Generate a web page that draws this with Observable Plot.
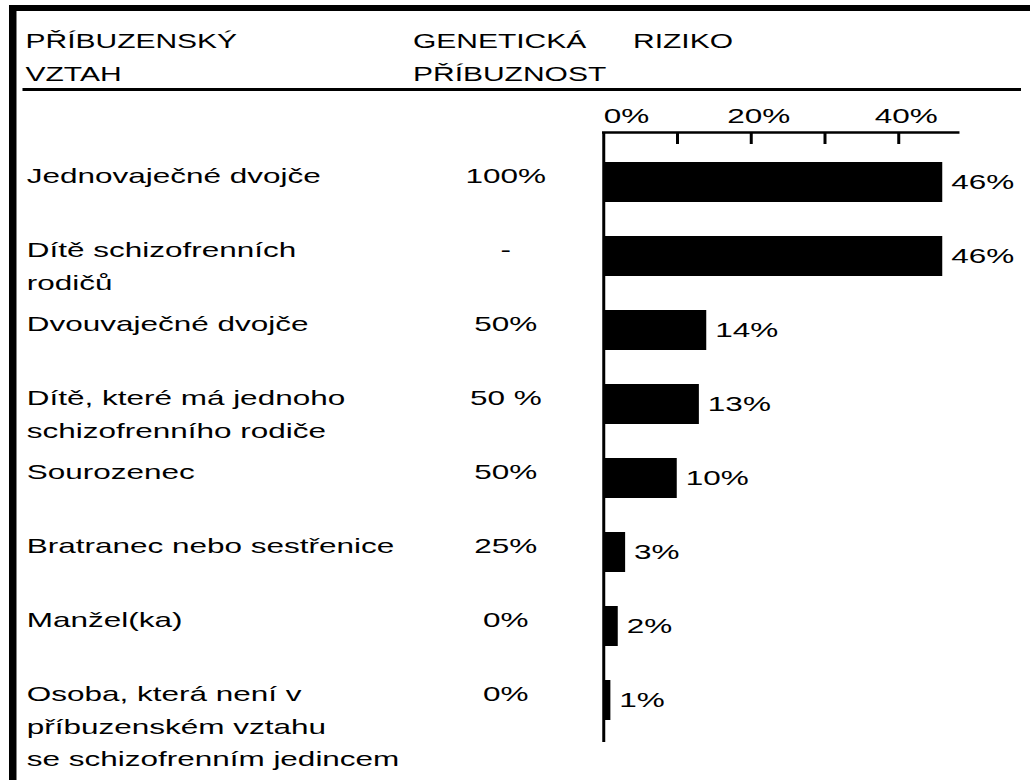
<!DOCTYPE html>
<html>
<head>
<meta charset="utf-8">
<script src="https://cdn.jsdelivr.net/npm/d3@7"></script>
<script src="https://cdn.jsdelivr.net/npm/@observablehq/plot@0.6"></script>
<style>
html, body { margin: 0; padding: 0; background: #fff; }
#stage { position: absolute; left: 0; top: 0; width: 687px; height: 780px; transform-origin: 0 0;
  font-family: 'Liberation Sans', Arial, sans-serif; color: #000; }
.hd { position: absolute; font-size: 20px; line-height: 33px; white-space: pre; color: #000; }
.rule { position: absolute; background: #000; }
#chart { position: absolute; left: 0; top: 0; width: 687px; height: 780px; }
</style>
</head>
<body>
<div id="stage">
  <div class="rule" style="left:6px;top:5px;width:681px;height:6px"></div>
  <div class="rule" style="left:6px;top:5px;width:5.4px;height:775px"></div>
  <div class="rule" style="left:15.3px;top:87.5px;width:666px;height:3px"></div>
  <div id="headers"></div>
  <div id="chart"></div>
</div>
<script>
// ---- data ----
const headers = ["PŘÍBUZENSKÝ\nVZTAH", "GENETICKÁ\nPŘÍBUZNOST", "RIZIKO"];
const relations = [
  "Jednovaječné dvojče",
  "Dítě schizofrenních\nrodičů",
  "Dvouvaječné dvojče",
  "Dítě, které má jednoho\nschizofrenního rodiče",
  "Sourozenec",
  "Bratranec nebo sestřenice",
  "Manžel(ka)",
  "Osoba, která není v\npříbuzenském vztahu\nse schizofrenním jedincem"
];
const relatedness = ["100%", "-", "50%", "50 %", "50%", "25%", "0%", "0%"];
const risk = [46, 46, 14, 13, 10, 3, 2, 1];
const tickLabels = [0, 20, 40];
const tickMarks = [10, 20, 30, 40];
const axisMax = 48;

// ---- layout ----
const W = 687, H = 780, S = 1030 / W;
document.getElementById("stage").style.transform = `scaleX(${S})`;
const headerLeft = [17, 413 / S, 633 / S];
const hd = document.getElementById("headers");
headers.forEach((h, i) => {
  const d = document.createElement("div");
  d.className = "hd";
  d.style.left = headerLeft[i] + "px";
  d.style.top = "25px";
  d.textContent = h;
  hd.appendChild(d);
});

const rows = relations.map((r, i) => ({relation: r, rel: relatedness[i], risk: risk[i]}));
const lines = rows.flatMap(d => d.relation.split("\n").map((t, j) => ({relation: d.relation, line: j, t})));

const mL = 603 / S, mT = 132, mR = W - 957 / S, mB = 38;
const labelDx = 26 / S - mL;
const relDx = 505 / S - mL;
const firstDy = -6, lineStep = 32.5;
const font = {fontSize: 21, fill: "#000"};

const chart = Plot.plot({
  width: W, height: H,
  marginLeft: mL, marginTop: mT, marginRight: mR, marginBottom: mB,
  style: {fontFamily: "'Liberation Sans', Arial, sans-serif", fontSize: "21px", background: "transparent", color: "#000", overflow: "visible"},
  x: {domain: [0, axisMax], axis: null},
  y: {domain: relations, range: [144, 737], paddingInner: 0.4645, paddingOuter: 0.2, axis: null},
  marks: [
    Plot.barX(rows, {x: "risk", y: "relation", fill: "#000"}),
    Plot.ruleX([0], {stroke: "#000", strokeWidth: 2}),
    Plot.frame({anchor: "top", stroke: "#000", strokeWidth: 2.3}),
    Plot.ruleX(tickMarks, {stroke: "#000", strokeWidth: 2, insetBottom: (H - mB - mT) - 12}),
    Plot.text(tickLabels.filter(v => v === 0), {x: d => d, text: d => d + "%", frameAnchor: "top", lineAnchor: "middle", textAnchor: "start", dy: -16, ...font}),
    Plot.text(tickLabels.filter(v => v !== 0), {x: d => d, text: d => d + "%", frameAnchor: "top", lineAnchor: "middle", textAnchor: "middle", dx: 5, dy: -16, ...font}),
    Plot.text(rows, {x: "risk", y: "relation", text: d => d.risk + "%", textAnchor: "start", dx: 5.5, ...font}),
    Plot.text(rows, {y: "relation", text: "rel", frameAnchor: "left", lineAnchor: "middle", textAnchor: "middle", dx: relDx, dy: firstDy, ...font}),
    Plot.text(lines.filter(l => l.line === 0), {y: "relation", text: "t", frameAnchor: "left", lineAnchor: "middle", textAnchor: "start", dx: labelDx, dy: firstDy, ...font}),
    Plot.text(lines.filter(l => l.line === 1), {y: "relation", text: "t", frameAnchor: "left", lineAnchor: "middle", textAnchor: "start", dx: labelDx, dy: firstDy + lineStep, ...font}),
    Plot.text(lines.filter(l => l.line === 2), {y: "relation", text: "t", frameAnchor: "left", lineAnchor: "middle", textAnchor: "start", dx: labelDx, dy: firstDy + 2 * lineStep, ...font})
  ]
});
document.getElementById("chart").appendChild(chart);
</script>
</body>
</html>
